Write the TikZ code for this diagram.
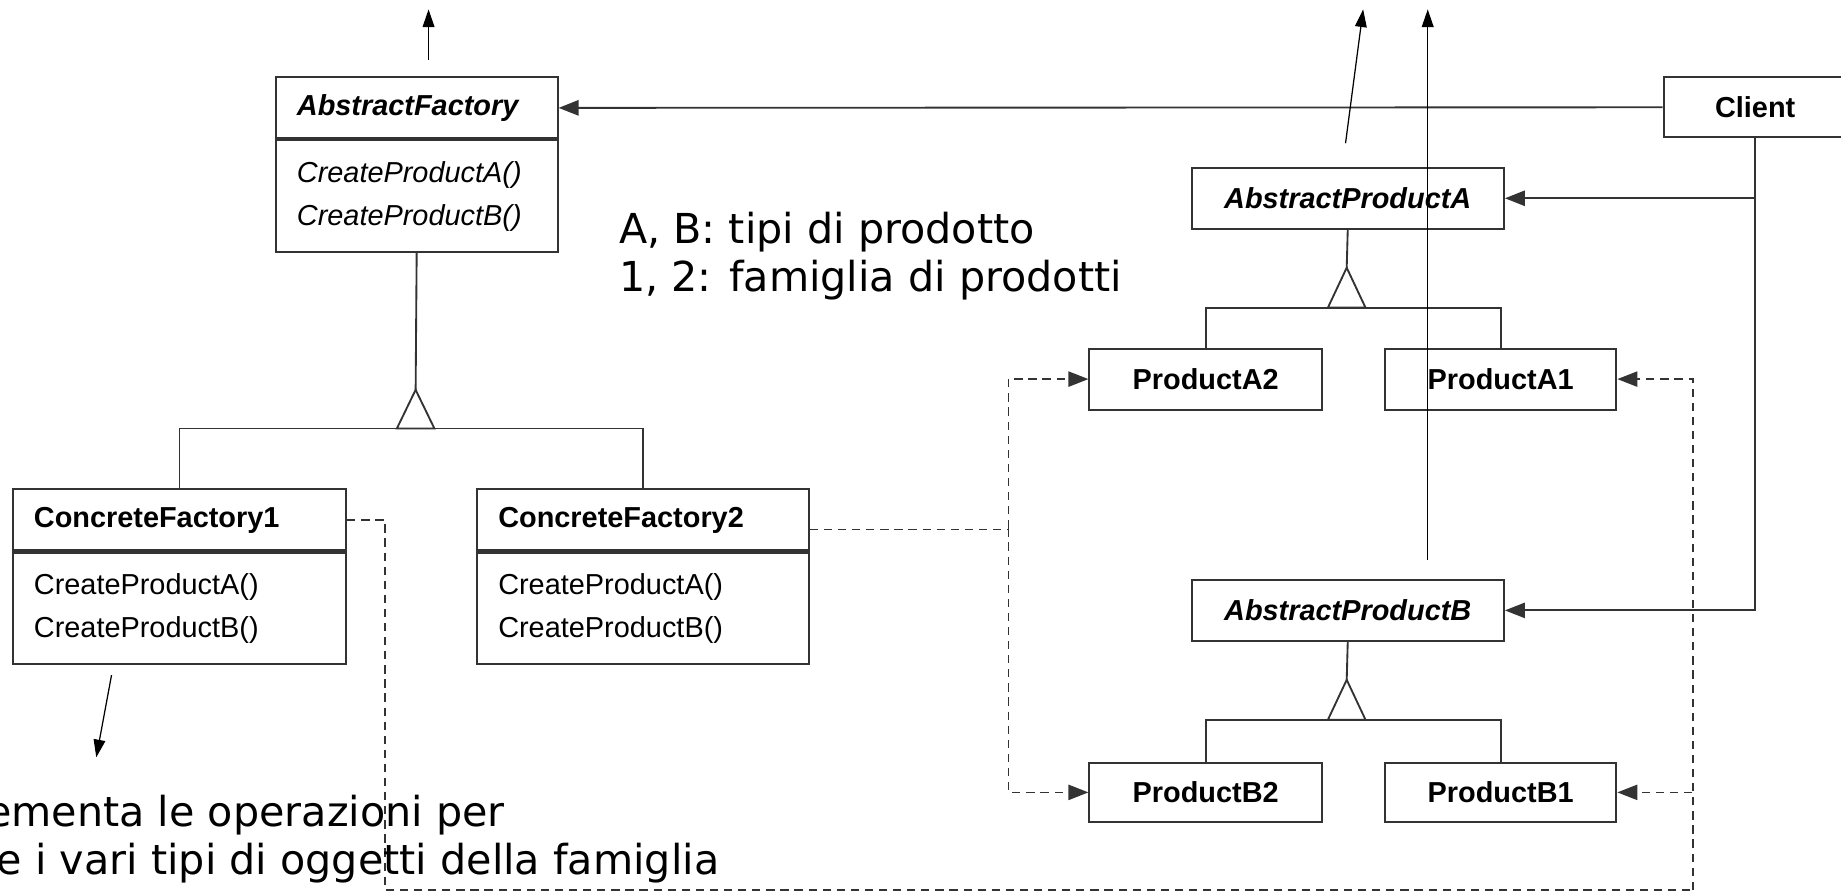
\documentclass[tikz,border=0pt]{standalone}
\usepackage{fontspec}
\setmainfont{Liberation Sans}
\newfontfamily\notefont{DejaVu Sans}
\usetikzlibrary{arrows.meta,positioning}

\definecolor{umlgray}{HTML}{333333}

\begin{document}
\begin{tikzpicture}[x=0.2mm, y=-0.2mm,
    namebox/.style={draw=umlgray, line width=1pt, minimum height=10.4mm, text width=#1,
        inner xsep=3.6mm, inner ysep=0pt, align=left, font=\fontsize{14}{17}\selectfont\bfseries},
    opsbox/.style={draw=umlgray, line width=1pt, minimum height=19mm, text width=#1,
        inner xsep=3.6mm, inner ysep=0pt, align=left, font=\fontsize{14}{21}\selectfont},
    prodbox/.style={draw=umlgray, line width=1pt, minimum height=10.4mm, minimum width=#1,
        inner sep=0pt, font=\fontsize{14}{17}\selectfont\bfseries},
    conn/.style={draw=umlgray, line width=0.9pt},
    assoc/.style={conn, -{Triangle[length=3.4mm,width=2.6mm]}},
    dashline/.style={draw=umlgray, line width=0.7pt, dash pattern=on 1.4mm off 1mm},
    dep/.style={dashline, -{Triangle[length=3.4mm,width=2.6mm]}},
    note/.style={line width=0.6pt, -{Triangle[length=3mm,width=2mm]}},
    notetext/.style={font=\notefont\fontsize{20}{24}\selectfont, inner sep=0pt, anchor=base west}
]
    \useasboundingbox (0,0) rectangle (1568,759);

    % Abstract factory and client
    \node[namebox=40.8mm, anchor=north west] (af) at (234,65) {\itshape AbstractFactory};
    \node[opsbox=40.8mm, below=0pt of af] (afops) {\itshape CreateProductA()\\CreateProductB()};
    \node[prodbox=31.2mm, anchor=north west, minimum height=10.2mm] (client) at (1416,65) {Client};

    % Concrete factories
    \node[namebox=49.6mm, anchor=north west] (cf1) at (10,416) {ConcreteFactory1};
    \node[opsbox=49.6mm, below=0pt of cf1] (cf1ops) {CreateProductA()\\CreateProductB()};
    \node[namebox=49.3mm, anchor=north west] (cf2) at (405.5,416) {ConcreteFactory2};
    \node[opsbox=49.3mm, below=0pt of cf2] (cf2ops) {CreateProductA()\\CreateProductB()};

    % Products of type A
    \node[prodbox=53.2mm, anchor=north west] (apa) at (1014,142) {\itshape AbstractProductA};
    \node[prodbox=39.6mm, anchor=north west] (pa2) at (927,296) {ProductA2};
    \node[prodbox=39.4mm, right=10.4mm of pa2] (pa1) {ProductA1};

    % Products of type B
    \node[prodbox=53.2mm, anchor=north west] (apb) at (1014,493) {\itshape AbstractProductB};
    \node[prodbox=39.6mm, anchor=north west, minimum height=10mm] (pb2) at (927,649) {ProductB2};
    \node[prodbox=39.4mm, minimum height=10mm, right=10.4mm of pb2] (pb1) {ProductB1};

    % Generalization of the factories
    \coordinate (aftri) at (354,332);
    \coordinate (afbar) at (354,365);
    \draw[conn] (afops.south) -- (aftri);
    \draw[conn] (cf1.north) -- (cf1.north |- afbar) -- (cf2.north |- afbar) -- (cf2.north);
    \filldraw[conn, fill=white] (afbar) ++(-16,0) -- (aftri) -- ++(16,33) -- cycle;

    % Generalization of the products
    \coordinate (patri) at (1147,228);
    \coordinate (pabar) at (1147,262);
    \draw[conn] (apa.south) -- (patri);
    \draw[conn] (pa2.north) -- (pa2.north |- pabar) -- (pa1.north |- pabar) -- (pa1.north);
    \filldraw[conn, fill=white] (pabar) ++(-16,0) -- (patri) -- ++(16,34) -- cycle;

    \coordinate (pbtri) at (1147,579);
    \coordinate (pbbar) at (1147,613);
    \draw[conn] (apb.south) -- (pbtri);
    \draw[conn] (pb2.north) -- (pb2.north |- pbbar) -- (pb1.north |- pbbar) -- (pb1.north);
    \filldraw[conn, fill=white] (pbbar) ++(-16,0) -- (pbtri) -- ++(16,34) -- cycle;

    % Client associations
    \draw[assoc] (client.west) -- (af.east);
    \draw[assoc] (client.south) |- (apa.east);
    \draw[assoc] (client.south) |- (apb.east);

    % Dependencies: factory 2 creates the products 2
    \coordinate (depl) at (859,450);
    \draw[dashline] ([yshift=-1.6mm]cf2.east) -| (depl);
    \draw[dep] (depl) |- (pa2.west);
    \draw[dep] (depl) |- (pb2.west);

    % Dependencies: factory 1 creates the products 1
    \coordinate (depc) at (328,758);
    \coordinate (depr) at (1442,758);
    \draw[dashline] (cf1.east) -| (depc) -- (depr);
    \draw[dep] (depr) |- (pa1.east);
    \draw[dep] (depr) |- (pb1.east);

    % Note arrows
    \coordinate (afnote) at (365,51);
    \coordinate (afnotetip) at (365,8);
    \draw[note] (afnote) -- (afnotetip);
    \coordinate (apanote) at (1146,122);
    \coordinate (apanotetip) at (1161,8);
    \draw[note] (apanote) -- (apanotetip);
    \coordinate (apbnote) at (1216,477);
    \coordinate (apbnotetip) at (1216,8);
    \draw[note] (apbnote) -- (apbnotetip);
    \coordinate (cfnote) at (95,575);
    \coordinate (cfnotetip) at (82,645);
    \draw[note] (cfnote) -- (cfnotetip);

    % Note texts
    \node[notetext] (legendab) at (527,207) {A, B: tipi di prodotto};
    \node[notetext] (legend12) at (527,248.5) {1, 2: famiglia di prodotti};
    \node[notetext] (cfnote1) at (-12,704) {ementa le operazioni per};
    \node[notetext] (cfnote2) at (-3,745) {e i vari tipi di oggetti della famiglia};
\end{tikzpicture}
\end{document}
